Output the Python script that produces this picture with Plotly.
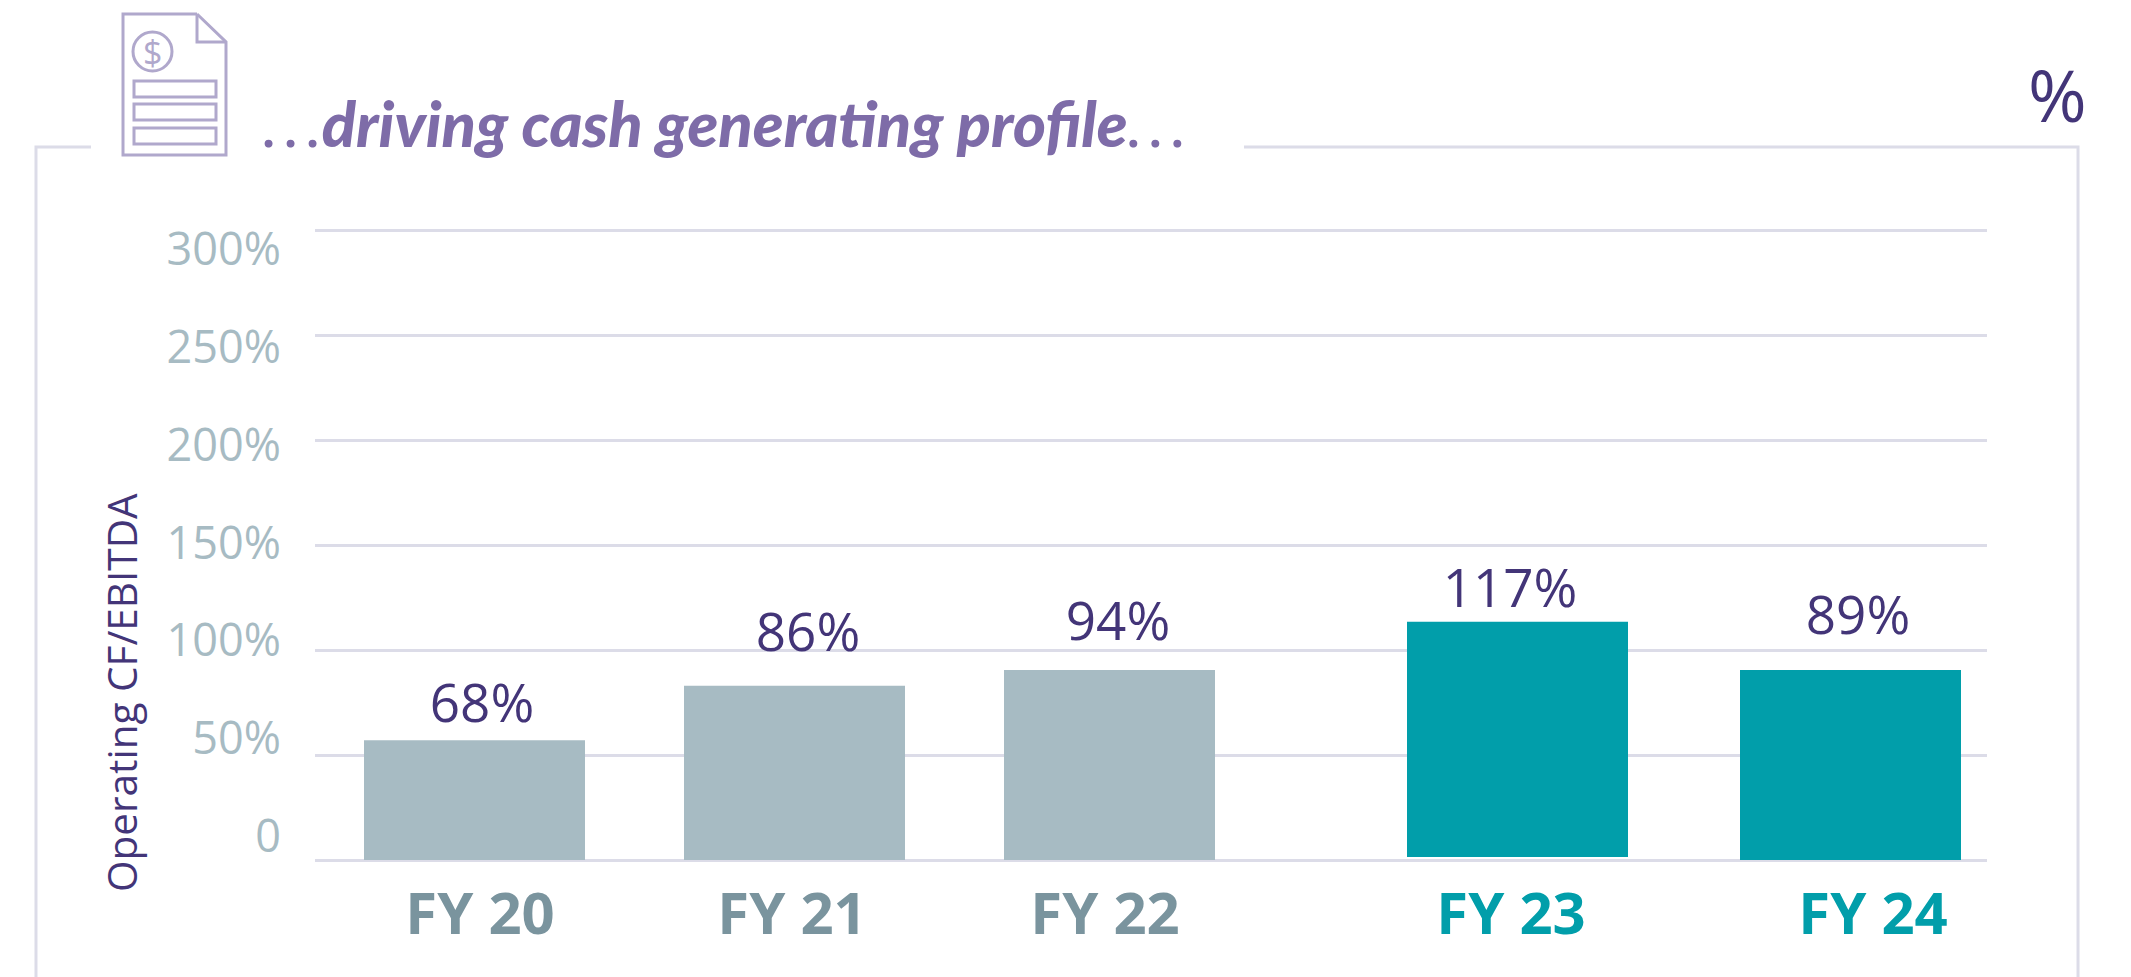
import plotly.graph_objects as go

W, H = 2131, 977
L, R, T, B = 315, 1987, 228, 862  # plot rectangle in page pixels (2 px of slack so end gridlines draw)
PAD = 2 / 2.1  # that slack in axis units

# ---- data ----
categories = ["FY 20", "FY 21", "FY 22", "FY 23", "FY 24"]
bar_heights = [57, 83, 90.5, 112, 90.5]
bar_bases = [0, 0, 0, 1.4, 0]
value_labels = ["68%", "86%", "94%", "117%", "89%"]
y_ticks = [0, 50, 100, 150, 200, 250, 300]
y_tick_labels = ["0", "50%", "100%", "150%", "200%", "250%", "300%"]
y_title = "Operating CF/EBITDA"
chart_title = ("<span style='font-weight:400'>.\u2009.\u2009.</span>driving cash generating profile"
               "<span style='font-weight:400'>.\u2009.\u2009.</span>")

# ---- placement along the x axis and of the labels (the source is hand-laid) ----
bar_centers = [474.5, 794.5, 1109.5, 1517.5, 1850.5]
bar_widths = [221, 221, 211, 221, 221]
category_label_x = [480, 792, 1105, 1511, 1873]
value_label_x = [482, 808, 1118, 1510, 1858]
value_label_y = [72, 106, 111, 127, 114]

GREY = "#A7BBC3"
GREY_DARK = "#7A949E"
TEAL = "#019EAA"
PURPLE = "#433578"
TITLE = "#7E6CA8"
ICON = "#B0A8CC"
RULE = "#DCDCE8"
FONT = "Open Sans"


def px(x):
    return (x - L) / (R - L)


def py(y):
    return (B - y) / (B - T)


def line(pts, color=RULE, width=3):
    d = "M " + " L ".join(f"{px(x):.5f},{py(y):.5f}" for x, y in pts)
    return dict(type="path", xref="paper", yref="paper", path=d,
                line=dict(color=color, width=width), layer="below")


def rect(x0, y0, x1, y1, color=ICON, width=3):
    return dict(type="rect", xref="paper", yref="paper", x0=px(x0), x1=px(x1), y0=py(y0), y1=py(y1),
                line=dict(color=color, width=width), layer="below")


shapes = [
    # frame
    line([(91, 147), (36, 147), (36, 977)]),
    line([(1244, 147), (2078, 147), (2078, 977)]),
    # document icon
    line([(197, 14), (123, 14), (123, 155), (226, 155), (226, 42), (197, 14)], ICON, 3),
    line([(197, 14), (197, 42), (226, 42)], ICON, 3),
    dict(type="circle", xref="paper", yref="paper", x0=px(133), x1=px(172), y0=py(32), y1=py(71),
         line=dict(color=ICON, width=3), layer="below"),
    rect(134, 81, 216, 97),
    rect(134, 104, 216, 120),
    rect(134, 128, 216, 144),
]

fig = go.Figure()
fig.add_bar(x=bar_centers, y=bar_heights, base=bar_bases, width=bar_widths,
            marker=dict(color=[GREY, GREY, GREY, TEAL, TEAL], line_width=0),
            showlegend=False, hoverinfo="skip")
fig.add_scatter(x=value_label_x, y=value_label_y, mode="text", text=value_labels,
                textposition="middle center", cliponaxis=False,
                textfont=dict(family=FONT, size=53, color=PURPLE),
                showlegend=False, hoverinfo="skip")
# carries the separately spaced y tick labels
fig.add_scatter(x=[None], y=[None], yaxis="y2", mode="markers", showlegend=False, hoverinfo="skip")

tick_text = [f"<span style='color:{GREY_DARK if i < 3 else TEAL}'>{c}</span>" for i, c in enumerate(categories)]

fig.update_layout(
    width=W, height=H, autosize=False,
    margin=dict(l=L, r=W - R, t=T, b=H - B, pad=0),
    paper_bgcolor="white", plot_bgcolor="rgba(0,0,0,0)",
    showlegend=False, shapes=shapes,
    xaxis=dict(range=[L, R], tickmode="array", tickvals=category_label_x, ticktext=tick_text,
               showgrid=False, zeroline=False, showline=False,
               ticks="outside", ticklen=1, tickcolor="rgba(0,0,0,0)",
               tickfont=dict(family=FONT, size=58, weight=700, color=GREY_DARK), fixedrange=True),
    yaxis=dict(range=[-PAD, 300 + PAD], tickmode="array", tickvals=y_ticks, showticklabels=False,
               showgrid=True, gridcolor=RULE, gridwidth=3, zeroline=False, showline=False,
               ticks="", fixedrange=True),
    yaxis2=dict(range=[0, 300], domain=[py(836.5), py(249)], anchor="free", position=0, side="left",
                tickmode="array", tickvals=y_ticks, ticktext=y_tick_labels,
                showgrid=False, zeroline=False, showline=False,
                ticks="outside", ticklen=25, tickcolor="rgba(0,0,0,0)",
                tickfont=dict(family=FONT, size=45, weight=400, color=GREY), fixedrange=True),
    annotations=[
        dict(text=y_title, xref="paper", yref="paper", x=px(121), y=py(693), textangle=-90,
             showarrow=False, xanchor="center", yanchor="middle",
             font=dict(family=FONT, size=40.5, color=PURPLE)),
        dict(text=chart_title, xref="paper", yref="paper", x=px(261), y=py(123),
             showarrow=False, xanchor="left", yanchor="middle",
             font=dict(family="Lato", size=63, color=TITLE, weight=900, style="italic")),
        dict(text="%", xref="paper", yref="paper", x=px(2057), y=py(95),
             showarrow=False, xanchor="center", yanchor="middle",
             font=dict(family=FONT, size=71, color=PURPLE)),
        dict(text="$", xref="paper", yref="paper", x=px(152.5), y=py(52),
             showarrow=False, xanchor="center", yanchor="middle",
             font=dict(family=FONT, size=34, color=ICON)),
    ],
)

fig.write_html("out.html", config=dict(displayModeBar=False),
               post_script="document.body.style.margin='0';")
